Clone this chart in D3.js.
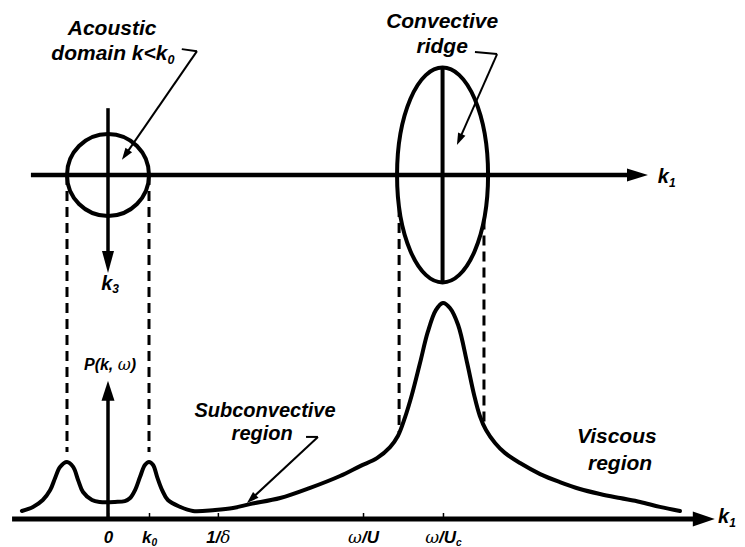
<!DOCTYPE html>
<html>
<head>
<meta charset="utf-8">
<script src="https://cdn.jsdelivr.net/npm/d3@7"></script>
<style>
    body { margin: 0; background: #fff; }
    text { font-family: "Liberation Sans", Arial, sans-serif; font-weight: bold; font-style: italic; fill: #000; }
    .greek { font-family: "DejaVu Serif", serif; font-weight: normal; }
</style>
</head>
<body>
<script>
// SCHEMATIC: wall pressure wavenumber spectrum (d3.js)

// tick marks on the lower k1 axis
const kTicks = [0, 1, 2.68, 6.22, 8.17];
const tickLabels = ['0', 'k_0', '1/δ', 'ω/U', 'ω/U_c'];

// spectrum P(k, w) along k1
const curveK = [-2.10, -1.83, -1.59, -1.41, -1.29, -1.17, -1.00, -0.85, -0.73, -0.61, -0.39, -0.20,
    0.17, 0.41, 0.54, 0.66, 0.78, 0.90, 1.00, 1.10, 1.20, 1.32, 1.46, 1.76, 2.07, 2.61, 3.05, 3.46,
    4.20, 4.93, 5.66, 6.15, 6.56, 6.88, 7.07, 7.24, 7.41, 7.61, 7.80, 8.00, 8.17, 8.34, 8.54, 8.76,
    8.93, 9.07, 9.22, 9.44, 9.68, 10.05, 10.54, 11.02, 11.51, 12.00, 12.49, 12.98, 13.46, 13.95];
const curveP = [0.037, 0.056, 0.088, 0.134, 0.190, 0.241, 0.264, 0.241, 0.181, 0.125, 0.088, 0.079,
    0.079, 0.083, 0.097, 0.134, 0.194, 0.250, 0.264, 0.250, 0.194, 0.134, 0.088, 0.056, 0.037, 0.042,
    0.051, 0.069, 0.097, 0.144, 0.199, 0.245, 0.282, 0.333, 0.384, 0.468, 0.574, 0.722, 0.866, 0.968,
    1.000, 0.977, 0.898, 0.722, 0.574, 0.477, 0.412, 0.352, 0.306, 0.259, 0.208, 0.171, 0.139, 0.116,
    0.097, 0.079, 0.056, 0.037];

// acoustic circle (radius k0) and convective ridge ellipse
const acousticRadius = 1;
const ridgeCenter = 8.16;
const ridgeHalfWidth = 1.11;
const ridgeHalfHeight = 2.62;
const ridgeDashK = [7.10, 9.17];


const svg = d3.select('body').append('svg')
    .attr('width', 745)
    .attr('height', 547);

// scales
const x = d3.scaleLinear().domain([0, 1]).range([108, 149]);     // k1
const yTop = d3.scaleLinear().domain([0, 1]).range([175, 216]);  // k3 (downwards)
const yP = d3.scaleLinear().domain([0, 1]).range([519, 303]);    // P(k, w)


// interpolated P at k (for the dashed drop lines)
function pAt(k) {
    const i = d3.bisectLeft(curveK, k);
    if (i <= 0) return curveP[0];
    if (i >= curveK.length) return curveP[curveK.length - 1];
    const t = (k - curveK[i - 1]) / (curveK[i] - curveK[i - 1]);
    return curveP[i - 1] + t * (curveP[i] - curveP[i - 1]);
}

function drawArrow(x1, y1, x2, y2, w, hl, hw) {
    const dx = x2 - x1, dy = y2 - y1, L = Math.hypot(dx, dy);
    const ux = dx / L, uy = dy / L;
    const bx = x2 - ux * hl, by = y2 - uy * hl;
    svg.append('line')
        .attr('x1', x1).attr('y1', y1)
        .attr('x2', bx + ux * 2).attr('y2', by + uy * 2)
        .attr('stroke', '#000')
        .attr('stroke-width', w);
    svg.append('path')
        .attr('d', `M${x2},${y2}L${bx - uy * hw / 2},${by + ux * hw / 2}L${bx + uy * hw / 2},${by - ux * hw / 2}Z`)
        .attr('fill', '#000');
}

// leader: short stub then thin arrow
function leader(pts) {
    svg.append('line')
        .attr('x1', pts[0][0]).attr('y1', pts[0][1])
        .attr('x2', pts[1][0]).attr('y2', pts[1][1])
        .attr('stroke', '#000').attr('stroke-width', 2);
    drawArrow(pts[1][0], pts[1][1], pts[2][0], pts[2][1], 2, 12, 8);
}

// label with greek runs and a trailing subscript ("k_0")
function richText(sel, label) {
    const [main, sub] = label.split('_');
    main.split(/([ωδ])/).filter(s => s.length).forEach(s => {
        sel.append('tspan')
            .attr('class', /[ωδ]/.test(s) ? 'greek' : null)
            .text(s);
    });
    if (sub) {
        sel.append('tspan')
            .attr('font-size', '0.6em')
            .attr('dy', '0.3em')
            .text(sub);
    }
}

function label(px, py, str, size, anchor) {
    const t = svg.append('text')
        .attr('x', px)
        .attr('y', py)
        .attr('text-anchor', anchor || 'middle')
        .style('font-size', size + 'px');
    richText(t, str);
}


// DASHED DROP LINES
[-acousticRadius, acousticRadius].forEach(k => {
    svg.append('line')
        .attr('x1', x(k)).attr('x2', x(k))
        .attr('y1', yTop(0))
        .attr('y2', yP(pAt(k)) - 10)
        .attr('stroke', '#000').attr('stroke-width', 3)
        .attr('stroke-dasharray', '10,6');
});

ridgeDashK.forEach(k => {
    const u = (k - ridgeCenter) / ridgeHalfWidth;
    const v = ridgeHalfHeight * Math.sqrt(Math.max(0, 1 - u * u));
    svg.append('line')
        .attr('x1', x(k)).attr('x2', x(k))
        .attr('y1', yTop(v))
        .attr('y2', yP(pAt(k)))
        .attr('stroke', '#000').attr('stroke-width', 3)
        .attr('stroke-dasharray', '10,6');
});


// UPPER PLANE (k1, k3)
drawArrow(x(-1.88), yTop(0), x(13.17), yTop(0), 4.5, 21, 13);
drawArrow(x(0), yTop(-1.63), x(0), yTop(2.39), 3.5, 22, 12);

svg.append('circle')
    .attr('cx', x(0))
    .attr('cy', yTop(0))
    .attr('r', x(acousticRadius) - x(0))
    .attr('fill', 'none')
    .attr('stroke', '#000')
    .attr('stroke-width', 4);

svg.append('ellipse')
    .attr('cx', x(ridgeCenter))
    .attr('cy', yTop(0))
    .attr('rx', x(ridgeCenter + ridgeHalfWidth) - x(ridgeCenter))
    .attr('ry', yTop(ridgeHalfHeight) - yTop(0))
    .attr('fill', 'none')
    .attr('stroke', '#000')
    .attr('stroke-width', 4);

svg.append('line')
    .attr('x1', x(ridgeCenter)).attr('x2', x(ridgeCenter))
    .attr('y1', yTop(-ridgeHalfHeight)).attr('y2', yTop(ridgeHalfHeight))
    .attr('stroke', '#000').attr('stroke-width', 4);


// LOWER PLOT P(k, w)
drawArrow(x(-2.34), yP(0), x(14.8), yP(0), 5, 22, 15);
drawArrow(x(0), yP(0), x(0), yP(0.64), 3.5, 20, 13);

const axis = d3.axisBottom(x)
    .tickValues(kTicks)
    .tickSizeInner(-6)
    .tickSizeOuter(0)
    .tickPadding(12)
    .tickFormat(() => '');

const gAxis = svg.append('g')
    .attr('transform', `translate(0,${yP(0)})`)
    .call(axis);

gAxis.select('.domain').remove();
gAxis.selectAll('.tick line').attr('stroke-width', 1.5);
gAxis.selectAll('.tick text')
    .style('font-size', '17px')
    .each(function (d, i) {
        richText(d3.select(this), tickLabels[i]);
    });

const line = d3.line()
    .x((d, i) => x(curveK[i]))
    .y((d, i) => yP(curveP[i]))
    .curve(d3.curveCatmullRom.alpha(0.5));

svg.append('path')
    .datum(curveK)
    .attr('d', line)
    .attr('fill', 'none')
    .attr('stroke', '#000')
    .attr('stroke-width', 4)
    .attr('stroke-linejoin', 'round')
    .attr('stroke-linecap', 'round');


// LABELS
label(x(0.1), yTop(-3.41), 'Acoustic', 21);
label(x(0.12), yTop(-2.80), 'domain k<k_0', 21);
leader([[x(1.80), yTop(-3.07)], [x(2.17), yTop(-3.02)], [x(0.34), yTop(-0.37)]]);

label(x(8.15), yTop(-3.59), 'Convective', 21);
label(x(8.15), yTop(-2.98), 'ridge', 21);
leader([[x(8.95), yTop(-3.0)], [x(9.49), yTop(-2.95)], [x(8.51), yTop(-0.73)]]);

label(x(3.83), yP(0.472), 'Subconvective', 20);
label(x(3.76), yP(0.365), 'region', 20);
leader([[x(4.83), yP(0.38)], [x(5.12), yP(0.38)], [x(3.39), yP(0.074)]]);

label(x(12.41), yP(0.352), 'Viscous', 21);
label(x(12.49), yP(0.227), 'region', 21);

label(x(0.05), yP(0.69), 'P(k, ω)', 16);
label(x(0.05), yTop(2.80), 'k_3', 20);
label(x(13.41), yTop(0.2), 'k_1', 20, 'start');
label(x(14.88), yP(-0.02), 'k_1', 20, 'start');
</script>
</body>
</html>
